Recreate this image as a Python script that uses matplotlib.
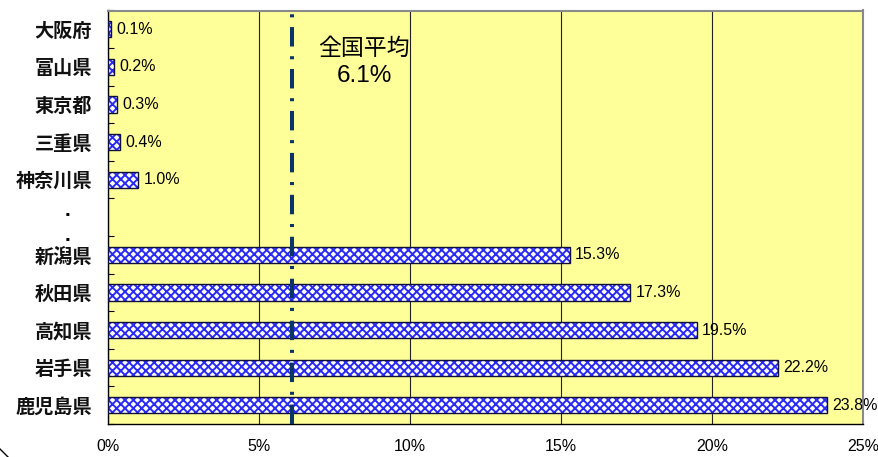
import matplotlib
matplotlib.use("Agg")
import matplotlib.pyplot as plt
import matplotlib.transforms as mtransforms
from matplotlib.lines import Line2D
import numpy as np

plt.rcParams['font.family'] = ['Liberation Sans', 'Noto Sans CJK JP', 'DejaVu Sans']
plt.rcParams['hatch.linewidth'] = 1.4
plt.rcParams['lines.scale_dashes'] = False

categories = ['大阪府', '富山県', '東京都', '三重県', '神奈川県', '', '新潟県', '秋田県', '高知県', '岩手県', '鹿児島県']
values = [0.1, 0.2, 0.3, 0.4, 1.0, np.nan, 15.3, 17.3, 19.5, 22.2, 23.8]
value_labels = ['0.1%', '0.2%', '0.3%', '0.4%', '1.0%', '', '15.3%', '17.3%', '19.5%', '22.2%', '23.8%']
x_ticks = [0, 5, 10, 15, 20, 25]
x_tick_labels = ['0%', '5%', '10%', '15%', '20%', '25%']
national_avg = 6.1
avg_label = '全国平均'
avg_value_label = '6.1%'

fig = plt.figure(figsize=(8.79, 4.57), dpi=100)
ax = fig.add_axes([108 / 879, 1 - 424 / 457, (863 - 108) / 879, (424 - 10.5) / 457])
ax.set_facecolor('#FFFF99')

y = np.arange(len(categories))
vals = np.array(values, dtype=float)
mask = ~np.isnan(vals)
ax.barh(y[mask], vals[mask], height=0.43, color='white', edgecolor='#2A2AF5',
        hatch='xxxx', linewidth=0, zorder=3)
ax.barh(y[mask], vals[mask], height=0.43, fill=False, edgecolor='#10103A',
        linewidth=1.0, zorder=4)

for yi, v, lab in zip(y, vals, value_labels):
    if not np.isnan(v):
        ax.text(v + 0.17, yi, lab, va='center', ha='left', fontsize=11.5,
                color='black', zorder=5)

ax.set_xlim(0, 25)
ax.set_ylim(len(categories) - 0.5, -0.5)

ax.set_xticks(x_ticks)
ax.set_xticklabels(x_tick_labels, fontsize=11.5, color='black')
ax.tick_params(axis='x', length=0, pad=11)
ax.xaxis.grid(True, color='#222222', linewidth=0.8, zorder=1)
ax.set_axisbelow(True)

ax.set_yticks(y)
ax.set_yticklabels(categories, fontsize=13.8, fontweight='bold',
                   family=['Noto Sans CJK JP'], color='#111111')
ax.tick_params(axis='y', which='major', length=0, pad=11.5)
ax.set_yticks(np.arange(-0.5, len(categories) + 0.5, 1), minor=True)
ax.tick_params(axis='y', which='minor', direction='in', length=4.5, width=0.8, color='black')

# dots for omitted rows
trans = mtransforms.blended_transform_factory(fig.transFigure, ax.transData)
for dy in (4.83, 5.49):
    ax.text(67 / 879, dy, '.', transform=trans, ha='center', va='center',
            fontsize=15, fontweight='bold', color='black')

# national average line
ax.axvline(national_avg, color='#0A3566', linewidth=2.9,
           linestyle=(0, (14.0, 7.0, 2.2, 7.0)), zorder=6)
ax.text(8.48, 0.5, avg_label, ha='center', va='center', fontsize=16.5,
        family=['Noto Sans CJK JP'], color='black', zorder=7)
ax.text(8.48, 1.24, avg_value_label, ha='center', va='center', fontsize=17.5,
        color='black', zorder=7)

for side in ('left', 'bottom'):
    ax.spines[side].set_color('black')
    ax.spines[side].set_linewidth(1.0)
for side in ('top', 'right'):
    ax.spines[side].set_color('#8A8A8A')
    ax.spines[side].set_linewidth(1.5)

# rounded chart border corner (mostly cropped)
fig.add_artist(Line2D([0 / 879, 8 / 879], [1 - 449 / 457, 1 - 457 / 457],
                      transform=fig.transFigure, color='black', linewidth=1.0))

fig.savefig('out.png', dpi=100, facecolor='white')
